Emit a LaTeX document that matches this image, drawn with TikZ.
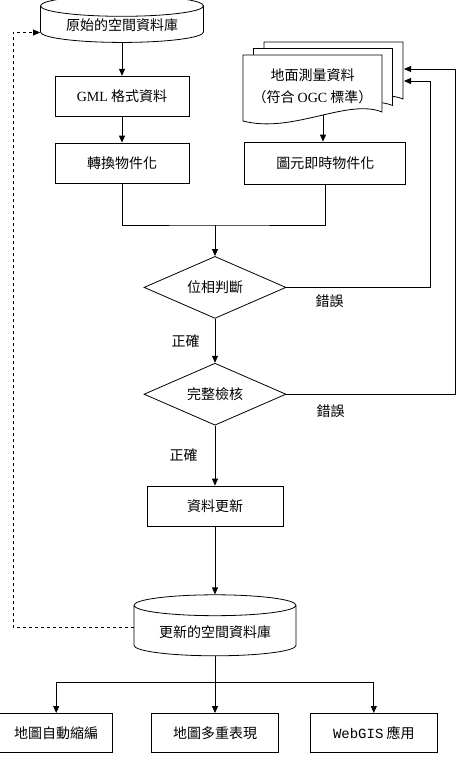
\documentclass[tikz,border=0pt]{standalone}
\usepackage{fontspec}
\setmainfont{Liberation Serif}
\setmonofont{Liberation Mono}
\newfontfamily\cjk{Noto Sans CJK TC}
\newcommand{\zh}{\cjk\fontsize{14}{18}\selectfont}
\newcommand{\lat}[1]{{\rmfamily #1}}
\usetikzlibrary{arrows.meta,positioning,shapes.geometric,backgrounds,calc}
\tikzset{
  box/.style   ={draw=black,line width=.8pt,minimum width=134pt,minimum height=40pt,
                 inner sep=3pt,font=\zh},
  db/.style    ={cylinder,shape border rotate=90,aspect=0.18,draw=black,line width=.8pt,
                 inner sep=2pt,font=\zh},
  dec/.style   ={diamond,aspect=2.3,draw=black,line width=.8pt,minimum width=142pt,
                 minimum height=62pt,inner sep=1pt,font=\zh},
  doctxt/.style={align=center,font=\zh,inner sep=2pt},
  sheet/.style ={draw=black,line width=.8pt,fill=white},
  lbl/.style   ={font=\zh,inner sep=1pt},
  ln/.style    ={line width=.8pt},
  a/.style     ={-{Triangle[length=7pt,width=6pt]},line width=.8pt},
  fb/.style    ={-{Triangle[length=7pt,width=6pt]},line width=.8pt,dashed},
}
\begin{document}
\begin{tikzpicture}[x=1pt,y=-1pt]
  \useasboundingbox (0,0) rectangle (457,770);

  % --- sources ---
  \node[db,minimum width=163pt,minimum height=47pt] (olddb) at (122,25.5) {原始的空間資料庫};
  \node[box,below=33pt of olddb] (gml) {\lat{GML} 格式資料};
  \node[box,below=26pt of gml] (conv) {轉換物件化};
  \node[box,right=55pt of conv,minimum width=161pt,minimum height=42pt] (rt) {圖元即時物件化};
  \node[doctxt] (survey) at (312.5,86) {地面測量資料\\[4pt]（符合 \lat{OGC} 標準）};

  % stacked document sheets behind the survey text
  \begin{scope}[on background layer]
    \foreach \dx/\dy in {21/-13,10.5/-6.5,0/0}
      \draw[sheet,shift={(survey.center)},shift={(\dx,\dy)}]
        (-69.5,-31) -- (69.5,-31) -- (69.5,26)
        .. controls (35,12) and (-20,48) .. (-69.5,35) -- cycle;
  \end{scope}
  \coordinate (docout) at ($(survey.center)+(10.5,29)$);
  \coordinate (docin1) at ($(survey.center)+(91.5,-17)$);
  \coordinate (docin2) at ($(survey.center)+(91.5,-5)$);

  % --- checks ---
  \coordinate (merge) at (215,225);
  \node[dec,below=31pt of merge] (topo) {位相判斷};
  \node[dec,below=44pt of topo] (check) {完整檢核};
  \node[box,below=60pt of check,minimum width=136pt] (update) {資料更新};
  \node[db,below=68pt of update,minimum width=162pt,minimum height=61pt] (newdb) {更新的空間資料庫};

  \node[lbl,below right=6pt and 28pt of topo.east] (err1) {錯誤};
  \node[lbl,below right=9pt and 29pt of check.east] (err2) {錯誤};

  % --- outputs ---
  \coordinate (split) at (215,682);
  \node[box,below=31pt of split,minimum width=127pt,minimum height=39pt] (multi) {地圖多重表現};
  \node[box,left=38pt of multi,minimum width=113pt,minimum height=39pt] (gen) {地圖自動縮編};
  \node[box,right=31pt of multi,minimum width=127pt,minimum height=39pt] (web) {\texttt{WebGIS} 應用};

  % rails
  \coordinate (rail0) at (13,0);
  \coordinate (rail1) at (430,0);
  \coordinate (rail2) at (455,0);

  % arrows
  \draw[a] (olddb) -- (gml);
  \draw[a] (gml) -- (conv);
  \draw[a] (docout) -- (docout |- rt.north);
  \draw[ln] (conv.south) |- (merge) -| (rt.south);
  \draw[a] (merge) -- (topo);
  \draw[a] (topo) -- node[lbl,midway,left=14pt] {正確} (check);
  \draw[a] (check) -- node[lbl,midway,left=16pt] {正確} (update);
  \draw[a] (update) -- (newdb);
  \draw[a] (topo.east) -- (topo.east -| rail1) |- (docin2);
  \draw[a] (check.east) -- (check.east -| rail2) |- (docin1);
  \draw[fb] ([yshift=4pt]newdb.west) -- ([yshift=4pt]newdb.west -| rail0)
        |- ([yshift=-7pt]olddb.west);
  \draw[ln] (newdb.south) -- (split);
  \draw[a] (split) -| (gen.north);
  \draw[a] (split) -- (multi.north);
  \draw[a] (split) -| (web.north);
\end{tikzpicture}
\end{document}
